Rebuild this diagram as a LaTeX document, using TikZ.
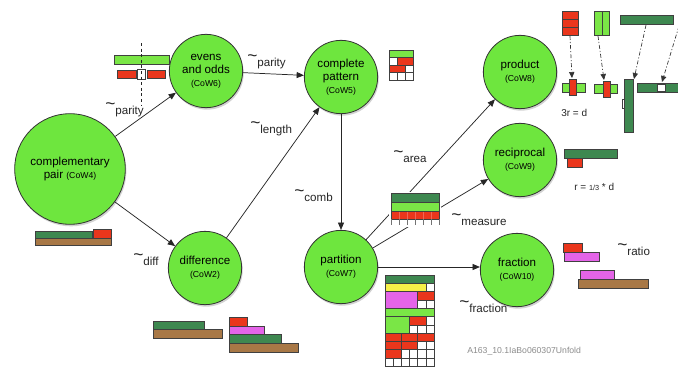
\documentclass[tikz,border=0pt]{standalone}
\usepackage{fontspec}
\setmainfont{Liberation Sans}
\usetikzlibrary{arrows.meta,shadows}
\definecolor{cowgreen}{RGB}{110,230,62}
\definecolor{dgreen}{RGB}{62,136,80}
\definecolor{lgreen}{RGB}{122,230,70}
\definecolor{cred}{RGB}{234,54,28}
\definecolor{cbrown}{RGB}{168,120,70}
\definecolor{cmag}{RGB}{228,100,232}
\definecolor{cyel}{RGB}{246,240,72}
\newcommand\mytilde{\raisebox{0.7ex}{\fontsize{13}{13}\selectfont\textasciitilde}}
\newcommand\cw[1]{{\fontsize{6.5}{8}\selectfont(#1)}}
\begin{document}
\begin{tikzpicture}[x=0.75pt,y=-0.75pt,
  cow/.style={circle,draw=black!80,fill=cowgreen,line width=0.6pt,minimum size=55pt,inner sep=0pt,align=center,
    font=\fontsize{8.7}{9.7}\selectfont,drop shadow={shadow xshift=0.8pt,shadow yshift=-1.5pt,opacity=0.35}},
  edge/.style={draw=black!85,line width=0.55pt,-{Triangle[length=5.5pt,width=4.5pt]}},
  ddarrow/.style={draw=black!80,line width=0.5pt,dash pattern=on 3pt off 1.5pt on 0.8pt off 1.5pt,-{Triangle[length=4.5pt,width=4pt]}},
  lbl/.style={font=\fontsize{8.7}{10}\selectfont,inner sep=0pt,anchor=base west,text=black!85},
  bar/.style={draw=black!75,line width=0.45pt},
  txt/.style={font=\fontsize{7.5}{9}\selectfont,inner sep=0pt,anchor=base west,text=black!85}]
\useasboundingbox (0,0) rectangle (678,368);
\fill[white] (0,0) rectangle (678,368);

% nodes
\node[cow,minimum size=83pt] (c4) at (70,169) {complementary\\pair \cw{CoW4}};
\node[cow] (c6) at (206,71) {evens\\and odds\\\cw{CoW6}};
\node[cow] (c5) at (341,77) {complete\\pattern\\\cw{CoW5}};
\node[cow] (c8) at (520,72) {product\\\cw{CoW8}};
\node[cow] (c9) at (520,160) {reciprocal\\\cw{CoW9}};
\node[cow] (c10) at (517,270) {fraction\\\cw{CoW10}};
\node[cow] (c7) at (341,267) {partition\\\cw{CoW7}};
\node[cow] (c2) at (205,268) {difference\\\cw{CoW2}};

% edges
\draw[edge] (c4) -- (c6);
\draw[edge] (c4) -- (c2);
\draw[edge] (c6) -- (c5);
\draw[edge] (c2) -- (c5);
\draw[edge] (c5) -- (c7);
\draw[edge] (c7) -- (c8);
\draw[edge] (c7) -- (c9);
\draw[edge] (c7.east) -- (c7.east -| c10.west);

% labels
\node[lbl] (l1) at (105,114) {\mytilde parity};
\node[lbl] (l2) at (247,66) {\mytilde parity};
\node[lbl] (l3) at (250,133) {\mytilde length};
\node[lbl] (l4) at (294,201) {\mytilde comb};
\node[lbl] (l5) at (133,265) {\mytilde diff};
\node[lbl] (l6) at (393,162) {\mytilde area};
\node[lbl] (l7) at (451,225) {\mytilde measure};
\node[lbl] (l8) at (459,312) {\mytilde fraction};
\node[lbl] (l9) at (617,255) {\mytilde ratio};

% icon: parity (evens and odds)
\draw[bar,fill=lgreen] (114,55) rectangle (169,64);
\draw[bar,fill=cred] (117,70) rectangle (136,78);
\draw[bar,fill=white] (137,69) rectangle (145,79);
\draw[bar,fill=cred] (147,70) rectangle (165,78);
\draw[black!85,line width=0.55pt,dash pattern=on 2.2pt off 2pt] (141,43) -- (141,106);

% icon: complete pattern
\draw[bar,fill=lgreen] (389,50) rectangle (413,57.5);
\draw[bar,fill=white] (389,57.5) rectangle (397,65);
\draw[bar,fill=cred] (397,57.5) rectangle (413,65);
\draw[bar,fill=cred] (389,65) rectangle (405,72.5);
\draw[bar,fill=white] (405,65) rectangle (413,72.5);
\foreach \i in {0,1,2} \draw[bar,fill=white] (389+8*\i,72.5) rectangle (397+8*\i,80);

% icon: complementary pair
\draw[bar,fill=dgreen] (35,231) rectangle (92,238);
\draw[bar,fill=cred] (93,229) rectangle (111,238);
\draw[bar,fill=cbrown] (35,238) rectangle (111,245);

% icons: difference
\draw[bar,fill=dgreen] (153,321) rectangle (204,329);
\draw[bar,fill=cbrown] (153,329) rectangle (222,338);
\draw[bar,fill=cred] (229,317) rectangle (247,326);
\draw[bar,fill=cmag] (229,326) rectangle (264,334);
\draw[bar,fill=dgreen] (229,334) rectangle (281,343);
\draw[bar,fill=cbrown] (229,343) rectangle (298,352);

% icon: measure
\fill[white] (389,192) rectangle (441,227);
\draw[bar,fill=dgreen] (391,193) rectangle (439,202);
\draw[bar,fill=lgreen] (391,202) rectangle (439,211);
\draw[bar,fill=cred] (391,211) rectangle (439,219);
\foreach \i in {1,...,5} \draw[cred!75!white,line width=0.25pt] (391+8*\i,211.5) -- (391+8*\i,218.5);
\foreach \i in {0,...,6} \draw[black!55,line width=0.5pt] (391+8*\i,219) -- (391+8*\i,225);

% icon: fraction pattern (below partition)
\def\u{8.17}
\def\h{8.3}
\def\cell#1#2#3#4{\draw[bar,fill=#4] (385+#1*\u,275+#3*\h) rectangle (385+#2*\u,275+#3*\h+\h);}
\cell{0}{6}{0}{dgreen}
\cell{0}{5}{1}{cyel}\cell{5}{6}{1}{white}
\draw[bar,fill=cmag] (385,275+2*\h) rectangle (385+4*\u,275+4*\h);
\cell{4}{6}{2}{cred}
\cell{4}{5}{3}{white}\cell{5}{6}{3}{white}
\cell{0}{6}{4}{lgreen}
\draw[bar,fill=lgreen] (385,275+5*\h) rectangle (385+3*\u,275+7*\h);
\cell{3}{5}{5}{cred}\cell{5}{6}{5}{white}
\cell{3}{4}{6}{white}\cell{4}{5}{6}{white}\cell{5}{6}{6}{white}
\cell{0}{2}{7}{cred}\cell{2}{4}{7}{cred}\cell{4}{6}{7}{cred}
\cell{0}{2}{8}{cred}\cell{2}{4}{8}{cred}\cell{4}{5}{8}{white}\cell{5}{6}{8}{white}
\cell{0}{2}{9}{cred}\cell{2}{3}{9}{white}\cell{3}{4}{9}{white}\cell{4}{5}{9}{white}\cell{5}{6}{9}{white}
\foreach \i/\j in {0/1,1/2,2/3,3/4,4/5,5/6} {\cell{\i}{\j}{10}{white}}

% icons: product
\draw[bar,fill=cred] (562,11) rectangle (578,19);
\draw[bar,fill=cred] (562,19) rectangle (578,27);
\draw[bar,fill=cred] (562,27) rectangle (578,35);
\draw[bar,fill=lgreen] (594,11) rectangle (602,35);
\draw[bar,fill=lgreen] (602,11) rectangle (609,35);
\draw[bar,fill=dgreen] (620,15) rectangle (673,24);
\coordinate (p1) at (570,36); \coordinate (q1) at (572,78);
\coordinate (p2) at (598,36); \coordinate (q2) at (604,80);
\coordinate (p3) at (646,25); \coordinate (q3) at (634,79);
\coordinate (p4) at (679,26); \coordinate (q4) at (662,82);
\draw[ddarrow] (p1) -- (q1);
\draw[ddarrow] (p2) -- (q2);
\draw[ddarrow] (p3) -- (q3);
\draw[ddarrow] (p4) -- (q4);
\draw[bar,fill=lgreen] (562,83) rectangle (585,92);
\draw[bar,fill=cred] (569,79) rectangle (576,95);
\draw[bar,fill=lgreen] (594,84) rectangle (617,93);
\draw[bar,fill=cred] (603,81) rectangle (610,97);
\draw[bar,fill=white] (622,99) rectangle (626,108);
\draw[bar,fill=dgreen] (624,79) rectangle (633,132);
\draw[bar,fill=dgreen] (637,83) rectangle (680,92);
\draw[bar,fill=white] (657,84) rectangle (665,91);
\node[txt] (t1) at (561,116) {3r = d};

% icon: reciprocal
\draw[bar,fill=dgreen] (564,149) rectangle (617,158);
\draw[bar,fill=cred] (567,158) rectangle (582,167);
\node[txt] (t2) at (574,190) {r = {\fontsize{5.5}{6}\selectfont 1/3} * d};

% icon: fraction (ratio)
\draw[bar,fill=cmag] (564,252) rectangle (599,261);
\draw[bar,fill=cred] (563,243) rectangle (582,252);
\draw[bar,fill=cmag] (580,270) rectangle (614,279);
\draw[bar,fill=cbrown] (578,279) rectangle (648,288);

% watermark
\node[inner sep=0pt,anchor=base west,text=black!45,font=\fontsize{6.5}{8}\selectfont] (wm) at (467,353) {A163\_10.1IaBo060307Unfold};
\end{tikzpicture}
\end{document}
